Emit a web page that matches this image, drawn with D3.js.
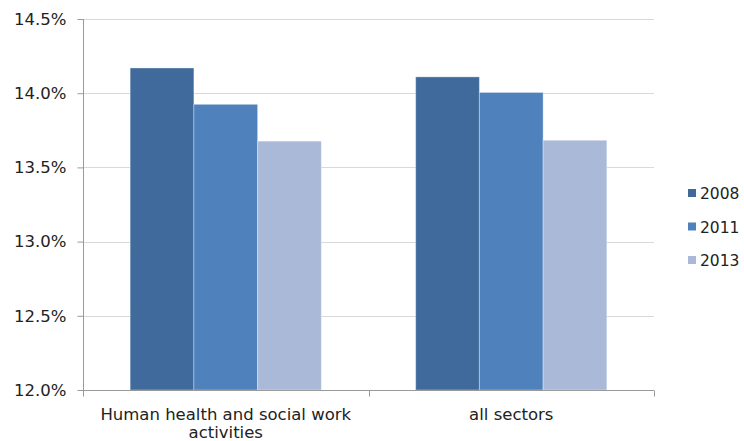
<!DOCTYPE html>
<html><head><meta charset="utf-8">
<script src="https://cdn.jsdelivr.net/npm/d3@7"></script>
<style>body{margin:0;background:#fff}svg{display:block}text{font-family:"DejaVu Sans",Verdana,sans-serif;fill:#222}</style>
</head><body>
<svg id="c" width="744" height="441"></svg>
<script>
const categories = ["Human health and social work activities", "all sectors"];
const categoryLines = [["Human health and social work", "activities"], ["all sectors"]];
const seriesNames = ["2008", "2011", "2013"];
const v2008 = [14.17, 14.11];
const v2011 = [13.925, 14.005];
const v2013 = [13.677, 13.683];
const yTicks = [12.0, 12.5, 13.0, 13.5, 14.0, 14.5];
const colors = ["#3F6A9B", "#4F81BD", "#AAB9D7"];

const series = [v2008, v2011, v2013];
const svg = d3.select("#c");
const L = 83, R = 654, T = 19, B = 390;
const x0 = d3.scaleBand().domain(categories).range([L, R]).paddingInner(0).paddingOuter(0);
const x1 = d3.scaleBand().domain(seriesNames).range([0, x0.bandwidth()]).paddingOuter(0.74).paddingInner(0);
const y = d3.scaleLinear().domain([12, 14.5]).range([B, T]);

// gridlines
svg.append("g").selectAll("line").data(yTicks.slice(1)).join("line")
  .attr("x1", L).attr("x2", R).attr("y1", d => Math.round(y(d)) + 0.5).attr("y2", d => Math.round(y(d)) + 0.5)
  .attr("stroke", "#D9D9D9").attr("stroke-width", 1);

// bars
categories.forEach((c, ci) => {
  series.forEach((s, si) => {
    svg.append("rect")
      .attr("x", x0(c) + x1(seriesNames[si]))
      .attr("y", y(s[ci]))
      .attr("width", x1.bandwidth())
      .attr("height", B - y(s[ci]))
      .attr("fill", colors[si])
      .attr("stroke", "rgba(255,255,255,0.35)").attr("stroke-width", 1);
  });
});

// y axis
const yAxis = d3.axisLeft(y).tickValues(yTicks).tickFormat(d => d.toFixed(1) + "%").tickSize(6).tickPadding(11);
const gy = svg.append("g").attr("transform", `translate(${L + 0.5},0)`).call(yAxis);
gy.selectAll("text").style("font-size", "16.5px").attr("fill", "#222");
gy.selectAll(".tick line").attr("stroke", "#9A9A9A");
gy.select(".domain").attr("stroke", "#9A9A9A").attr("d", `M0,${T}V${B}`);

// x axis
const gx = svg.append("g").attr("transform", `translate(0,${B + 0.5})`);
gx.append("line").attr("x1", L).attr("x2", R).attr("stroke", "#9A9A9A");
const bounds = [L, L + x0.bandwidth(), R];
gx.selectAll(".tk").data(bounds).join("line").attr("class", "tk")
  .attr("x1", d => Math.round(d) + 0.5).attr("x2", d => Math.round(d) + 0.5).attr("y1", 0).attr("y2", 6)
  .attr("stroke", "#9A9A9A");
categories.forEach((c, ci) => {
  const t = gx.append("text").attr("text-anchor", "middle").style("font-size", "16.5px")
    .attr("transform", `translate(${x0(c) + x0.bandwidth() / 2},29)`);
  categoryLines[ci].forEach((ln, li) => t.append("tspan").attr("x", 0).attr("dy", li ? 18.8 : 0).text(ln));
});

// legend
const lg = svg.append("g").selectAll("g").data(seriesNames).join("g")
  .attr("transform", (d, i) => `translate(688,${193 + i * 33.5})`);
lg.append("rect").attr("x", 0).attr("y", -4).attr("width", 8).attr("height", 8).attr("fill", (d, i) => colors[i]);
lg.append("text").attr("x", 12).attr("y", 6).style("font-size", "15.5px").text(d => d);
</script>
</body></html>
